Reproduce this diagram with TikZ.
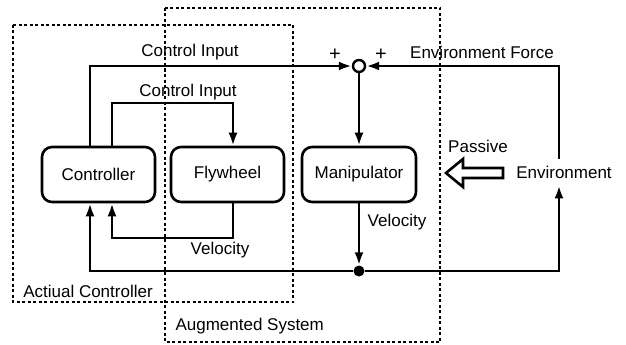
\documentclass[tikz,border=0pt]{standalone}
\usepackage{fontspec}
\setmainfont{Liberation Sans}
\usetikzlibrary{arrows.meta}

\begin{document}
\begin{tikzpicture}[x=1pt, y=-1pt,
    every node/.style={font=\fontsize{17}{20}\selectfont},
    block/.style={rectangle, rounded corners=10pt, minimum width=113pt, minimum height=55pt, text centered, draw=black, line width=2.6pt},
    frame/.style={line width=1.8pt, dash pattern=on 3pt off 2.5pt},
    arrow/.style={line width=2.6pt, -{Latex[length=13pt,width=9pt]}},
    line/.style={line width=2.6pt}]

    \useasboundingbox (0,0) rectangle (626,345);

    % dashed frames
    \draw [frame] (13,25) rectangle (293,302);
    \draw [frame] (165,8) rectangle (440,342);

    \node (ctrl) [block] at (98.5,174.5) {Controller};
    \node (fly) [block] at (227.5,174.5) {Flywheel};
    \node (manip) [block, minimum width=114pt] at (359,174.5) {Manipulator};
    \node (env) [inner sep=7pt] at (564,172) {Environment};
    \node (sum) [circle, draw, line width=2.4pt, fill=white, minimum size=12pt, inner sep=0pt] at (359,66) {};
    \node (dot) [circle, fill=black, minimum size=11pt, inner sep=0pt] at (359,271) {};

    \coordinate (ci) at (233,103);
    \coordinate (fv) at (112,238);
    \coordinate (efr) at (559,66);
    \coordinate (evr) at (559,271);

    \draw [arrow] ([xshift=-8.5pt]ctrl.north) |- (sum.west);
    \draw [arrow] ([xshift=13.5pt]ctrl.north) |- (ci) -- (ci |- fly.north);
    \draw [arrow] (fly.south -| ci) |- (fv) -- (fv |- ctrl.south);
    \draw [arrow] (dot) -| ([xshift=-8.5pt]ctrl.south);
    \draw [arrow] (sum.south) -- (manip.north);
    \draw [arrow] (manip.south) -- (dot);
    \draw [arrow] (env.north -| efr) -- (efr) -- (sum.east);
    \draw [arrow] (dot) -- (evr) -- (env.south -| evr);

    % passive arrow
    \draw [line, line join=miter] (503,168) -- (463,168) -- (463,159) -- (446,173) -- (463,187) -- (463,178) -- (503,178) -- cycle;

    \node (ci1) at (190,52) {Control Input};
    \node (ci2) at (188,92) {Control Input};
    \node (vel1) at (220,250) {Velocity};
    \node (vel2) at (397,222) {Velocity};
    \node (ef) at (482,52) {Environment Force};
    \node (pas) at (478,146) {Passive};
    \node (p1) [font=\fontsize{20}{22}\selectfont] at (335,55) {+};
    \node (p2) [font=\fontsize{20}{22}\selectfont] at (381,55) {+};
    \node (acl) at (88,291) {Actiual Controller};
    \node (asl) [anchor=west] at (172,326) {Augmented System};

  \end{tikzpicture}
\end{document}
